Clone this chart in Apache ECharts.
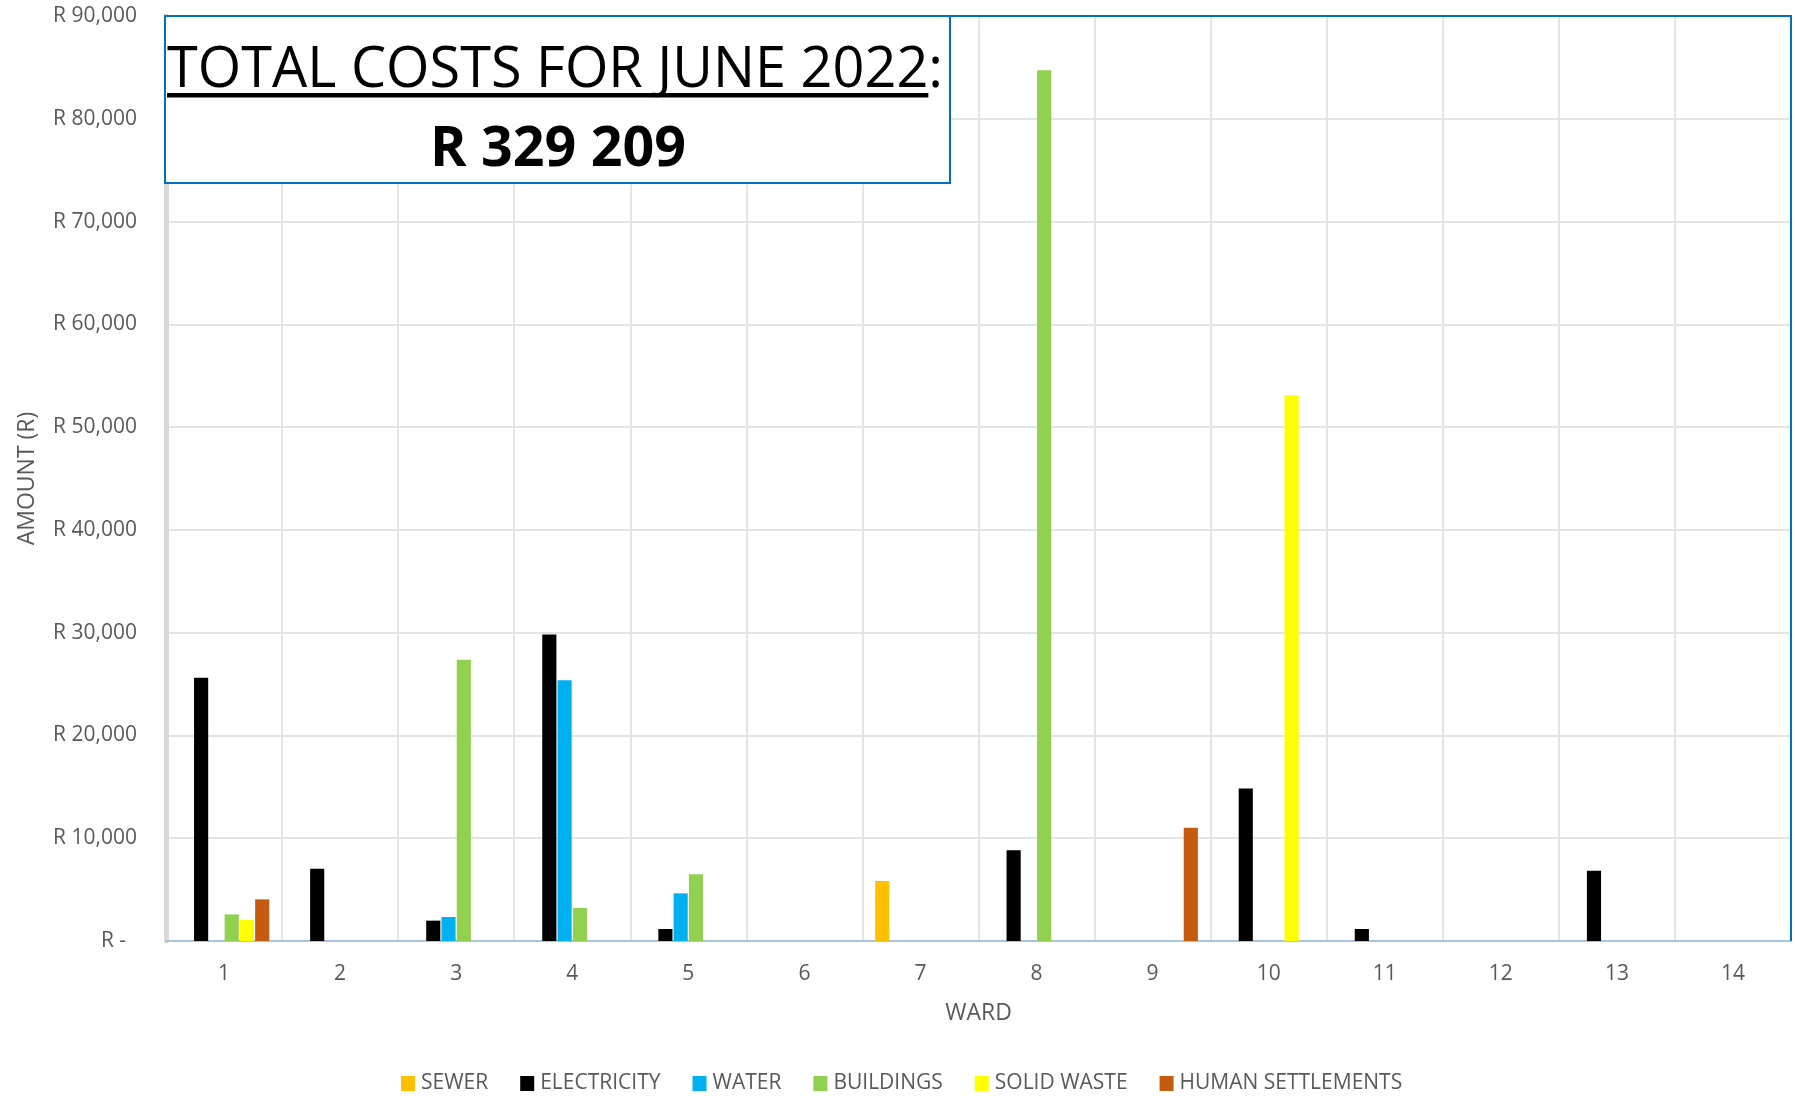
<!DOCTYPE html>
<html><head><meta charset="utf-8">
<script src="https://cdn.jsdelivr.net/npm/echarts@6/dist/echarts.min.js"></script>
<style>html,body{margin:0;padding:0;background:#fff}#c{width:1795px;height:1096px}</style>
</head><body><div id="c"></div>
<script>
// ---- data ----
const wards = ['1','2','3','4','5','6','7','8','9','10','11','12','13','14'];
const sewer            = [0, 0, 0, 0, 0, 0, 5840, 0, 0, 0, 0, 0, 0, 0];
const electricity      = [25620, 7040, 1980, 29830, 1170, 0, 0, 8820, 0, 14850, 1170, 0, 6840, 0];
const water            = [0, 0, 2335, 25360, 4640, 0, 0, 0, 0, 0, 0, 0, 0, 0];
const buildings        = [2590, 0, 27370, 3210, 6485, 0, 0, 84720, 0, 0, 0, 0, 0, 0];
const solidWaste       = [2040, 0, 0, 0, 0, 0, 0, 0, 0, 53100, 0, 0, 0, 0];
const humanSettlements = [4050, 0, 0, 0, 0, 0, 0, 0, 11025, 0, 0, 0, 0, 0];
const seriesNames = ['SEWER','ELECTRICITY','WATER','BUILDINGS','SOLID WASTE','HUMAN SETTLEMENTS'];
const seriesColors = ['#FFC000','#000000','#00B0F0','#92D050','#FFFF00','#C55A11'];
const yMin = 0, yMax = 90000, yStep = 10000;
const titleLine1 = 'TOTAL COSTS FOR JUNE 2022:';
const titleLine2 = 'R 329 209';

// ---- layout ----
const G = {left: 166, right: 4, top: 16, bottom: 155};
const W = 1795, H = 1096;
const plotR = W - G.right, plotB = H - G.bottom;

const FONT = '"Open Sans", "Noto Sans", sans-serif';
const mctx = document.createElement('canvas').getContext('2d');
mctx.font = '57px "Open Sans"';
const t1w = mctx.measureText(titleLine1).width;
const sx1 = 776 / t1w;
const uw = mctx.measureText(titleLine1.replace(/:$/, '')).width * sx1;
mctx.font = 'bold 56px "Open Sans"';
const t2w = mctx.measureText(titleLine2).width;
const sx2 = 256 / t2w;

const dataArr = [sewer, electricity, water, buildings, solidWaste, humanSettlements];
const chart = echarts.init(document.getElementById('c'), null, {renderer: 'canvas'});
chart.setOption({
  animation: false,
  backgroundColor: '#ffffff',
  textStyle: {fontFamily: FONT},
  grid: {left: G.left, right: G.right, top: G.top, bottom: G.bottom, containLabel: false},
  legend: {
    data: seriesNames, left: 401, top: 1073, padding: 0, icon: 'rect', itemWidth: 14, itemHeight: 15,
    itemGap: 32, textStyle: {fontSize: 21, color: '#595959', fontFamily: FONT, padding: [0,0,0,1]}
  },
  xAxis: {
    type: 'category', data: wards, boundaryGap: true,
    name: 'WARD', nameLocation: 'middle', nameGap: 60.5,
    nameTextStyle: {fontSize: 23, color: '#595959', fontFamily: FONT},
    axisLine: {show: true, lineStyle: {color: '#A9C4DC', width: 2}},
    axisTick: {show: false},
    axisLabel: {fontSize: 21, color: '#595959', margin: 22.5, fontFamily: FONT},
    splitLine: {show: true, interval: 0, lineStyle: {color: '#E4E4E4', width: 2}}
  },
  yAxis: {
    type: 'value', min: yMin, max: yMax, interval: yStep,
    name: 'AMOUNT (R)', nameLocation: 'middle', nameGap: 127,
    nameTextStyle: {fontSize: 23, color: '#595959', fontFamily: FONT},
    axisLine: {show: true, lineStyle: {color: '#D9D9D9', width: 5}},
    axisTick: {show: false},
    axisLabel: {
      fontSize: 21, color: '#595959', margin: 29, fontFamily: FONT,
      formatter: v => v === 0 ? 'R -  ' : 'R ' + v.toLocaleString('en-US')
    },
    splitLine: {show: true, lineStyle: {color: '#E4E4E4', width: 2}}
  },
  series: seriesNames.map((n, i) => ({
    name: n, type: 'bar', data: dataArr[i],
    itemStyle: {color: seriesColors[i]},
    barCategoryGap: '22%', barGap: '8%'
  })),
  graphic: [
    {type: 'polyline', z: 90, silent: true,
     shape: {points: [[G.left, G.top], [plotR, G.top], [plotR, plotB]]},
     style: {stroke: '#0070C0', lineWidth: 2, fill: null}},
    {type: 'rect', z: 100, silent: true,
     shape: {x: 165, y: 16, width: 785, height: 167},
     style: {fill: '#ffffff', stroke: '#0070C0', lineWidth: 2}},
    {type: 'text', z: 101, silent: true, x: 167, y: 70.5, scaleX: sx1, scaleY: 1,
     style: {text: titleLine1, font: '57px "Open Sans"', fill: '#000000', align: 'left', verticalAlign: 'middle'}},
    {type: 'rect', z: 101, silent: true,
     shape: {x: 167, y: 93, width: uw, height: 4.5},
     style: {fill: '#000000'}},
    {type: 'text', z: 101, silent: true, x: 558, y: 150, scaleX: sx2, scaleY: 1,
     style: {text: titleLine2, font: 'bold 56px "Open Sans"', fill: '#000000', align: 'center', verticalAlign: 'middle'}}
  ]
});
</script>
</body></html>
